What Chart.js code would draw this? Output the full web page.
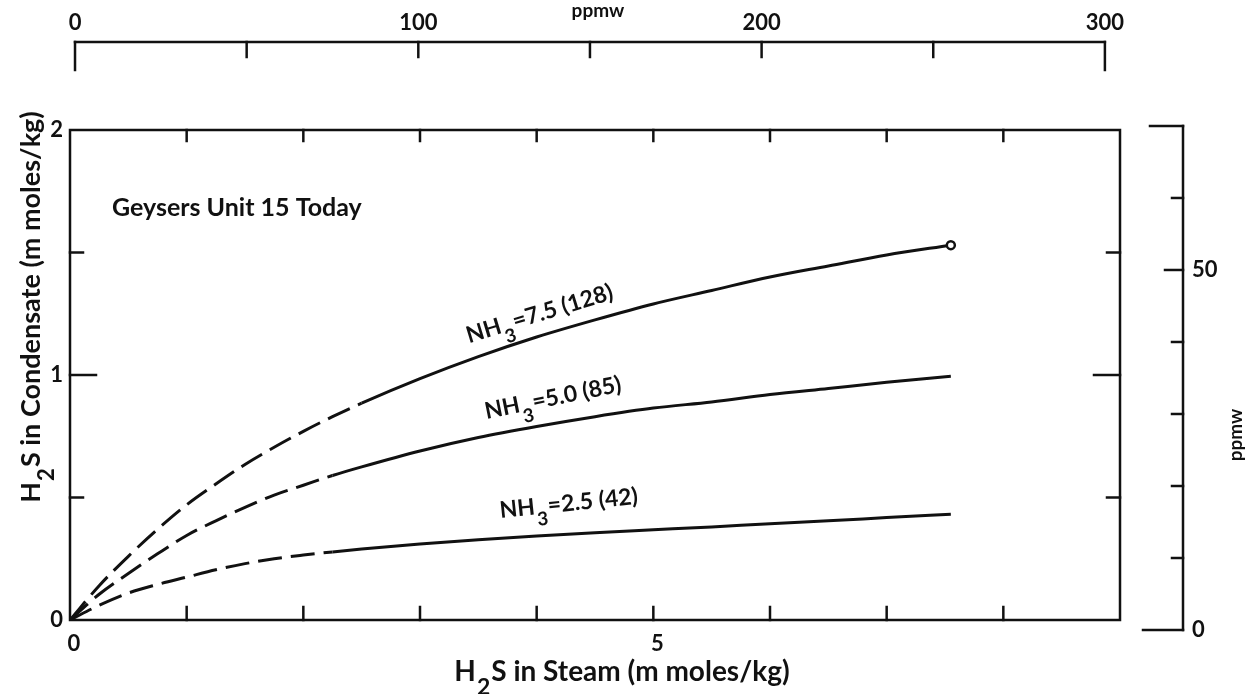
<!DOCTYPE html>
<html>
<head>
<meta charset="utf-8">
<script src="https://cdn.jsdelivr.net/npm/chart.js@4.4.1/dist/chart.umd.min.js"></script>
<style>
  html, body { margin: 0; padding: 0; background: #fff; }
  canvas { display: block; }
</style>
</head>
<body>
<canvas id="myChart" width="1247" height="694"></canvas>
<script>
// H2S in steam (m moles/kg), shared by the three curves
var steamX = [0, 0.25, 0.5, 0.75, 1, 1.25, 1.5, 1.75, 2, 2.25, 2.5, 3, 3.5, 4, 4.5, 5, 5.5, 6, 6.5, 7, 7.55];

// H2S in condensate (m moles/kg) for each NH3 level
var nh3_75 = [0, 0.14, 0.26, 0.37, 0.47, 0.555, 0.635, 0.705, 0.77, 0.83, 0.885, 0.985, 1.075, 1.155, 1.225, 1.29, 1.345, 1.40, 1.445, 1.49, 1.53];
var nh3_50 = [0, 0.105, 0.19, 0.27, 0.345, 0.405, 0.46, 0.51, 0.55, 0.59, 0.625, 0.69, 0.745, 0.79, 0.83, 0.865, 0.89, 0.92, 0.945, 0.97, 0.995];
var nh3_25 = [0, 0.06, 0.11, 0.145, 0.175, 0.205, 0.23, 0.25, 0.265, 0.278, 0.29, 0.31, 0.328, 0.343, 0.356, 0.368, 0.38, 0.393, 0.405, 0.418, 0.432];

// curves are dashed (extrapolated) below these steam values
var solidFrom = [2.5, 2.25, 2.25];
var nh3Labels = ['7.5 (128)', '5.0 (85)', '2.5 (42)'];

var xTicks = [0, 1, 2, 3, 4, 5, 6, 7, 8, 9];
var xTickLabels = [0, 5];
var yTicks = [0, 0.5, 1, 1.5, 2];
var yTickLabels = [0, 1, 2];
var ppmwTopTicks = [0, 50, 100, 150, 200, 250, 300];
var ppmwTopLabels = [0, 100, 200, 300];
var ppmwRightTicks = [0, 10, 20, 30, 40, 50, 60, 70];
var ppmwRightLabels = [0, 50];

var ink = '#111';
var FONT = 'Lato, "DejaVu Sans", sans-serif';

function toPoints(ys) {
  return steamX.map(function (x, i) { return { x: x, y: ys[i] }; });
}

function seg(c, x1, y1, x2, y2) {
  c.beginPath(); c.moveTo(x1, y1); c.lineTo(x2, y2); c.stroke();
}

// draws text with a lowered digit, e.g. H2S / NH3
function subText(c, parts, x, y, size, align) {
  var w = 0;
  parts.forEach(function (p) {
    c.font = '700 ' + (p[1] ? size * 0.82 : size) + 'px ' + FONT;
    w += c.measureText(p[0]).width + (p[1] ? 2 : 0);
  });
  var cx = align === 'center' ? x - w / 2 : x;
  c.textAlign = 'left';
  c.textBaseline = 'alphabetic';
  parts.forEach(function (p) {
    c.font = '700 ' + (p[1] ? size * 0.82 : size) + 'px ' + FONT;
    c.fillText(p[0], cx + (p[1] ? 1 : 0), p[1] ? y + size * 0.5 : y);
    cx += c.measureText(p[0]).width + (p[1] ? 2 : 0);
  });
}

var decor = {
  id: 'decor',
  beforeDatasetsDraw: function (chart) {
    var c = chart.ctx, s = chart.scales, a = chart.chartArea;
    c.save();
    c.strokeStyle = ink;
    c.fillStyle = ink;
    c.lineWidth = 2.5;
    c.lineCap = 'square';
    c.strokeRect(a.left, a.top, a.right - a.left, a.bottom - a.top);

    // inward ticks on the main box
    xTicks.forEach(function (v) {
      if (v === 0 || v === 9) return;
      var px = s.x.getPixelForValue(v);
      seg(c, px, a.bottom, px, a.bottom - 13);
      seg(c, px, a.top, px, a.top + 11);
    });
    yTicks.forEach(function (v) {
      if (v === 0 || v === 2) return;
      var py = s.y.getPixelForValue(v);
      var len = v === 1 ? 26 : 13;
      seg(c, a.left, py, a.left + len, py);
      seg(c, a.right, py, a.right - len, py);
    });

    // tick labels of the main box
    c.font = '700 22px ' + FONT;
    c.textAlign = 'center';
    c.textBaseline = 'top';
    xTickLabels.forEach(function (v) {
      c.fillText(String(v), s.x.getPixelForValue(v) + 4, a.bottom + 13);
    });
    c.textAlign = 'right';
    c.textBaseline = 'middle';
    yTickLabels.forEach(function (v) {
      c.fillText(String(v), a.left - 7, s.y.getPixelForValue(v));
    });

    // separate ppmw axis above the box
    var ty = 42;
    var x0 = s.xTop.getPixelForValue(0), x1 = s.xTop.getPixelForValue(300);
    seg(c, x0, ty, x1, ty);
    ppmwTopTicks.forEach(function (v) {
      var px = s.xTop.getPixelForValue(v);
      var len = (v === 0 || v === 300) ? 28 : 15;
      seg(c, px, ty, px, ty + len);
    });
    c.font = '700 22px ' + FONT;
    c.textAlign = 'center';
    c.textBaseline = 'alphabetic';
    ppmwTopLabels.forEach(function (v) {
      c.fillText(String(v), s.xTop.getPixelForValue(v), ty - 12);
    });
    c.font = '700 19px ' + FONT;
    c.fillText('ppmw', s.xTop.getPixelForValue(150) + 8, 17);

    // separate ppmw axis right of the box
    var rx = 1183;
    var y0 = s.yRight.getPixelForValue(0), y1 = s.yRight.getPixelForValue(70);
    seg(c, rx, y0, rx, y1);
    seg(c, rx - 33, y1, rx, y1);
    seg(c, rx - 40, y0, rx, y0);
    ppmwRightTicks.forEach(function (v) {
      if (v === 0 || v === 70) return;
      var py = s.yRight.getPixelForValue(v);
      seg(c, rx, py, rx - (v === 50 ? 18 : 11), py);
    });
    c.font = '700 22px ' + FONT;
    c.textAlign = 'left';
    c.textBaseline = 'middle';
    ppmwRightLabels.forEach(function (v) {
      c.fillText(String(v), rx + 9, s.yRight.getPixelForValue(v));
    });
    c.save();
    c.translate(1236, 435);
    c.rotate(-Math.PI / 2);
    c.font = '700 19px ' + FONT;
    c.textAlign = 'center';
    c.fillText('ppmw', 0, 0);
    c.restore();
    c.restore();
  },
  afterDraw: function (chart) {
    var c = chart.ctx, s = chart.scales, a = chart.chartArea;
    c.save();
    c.fillStyle = ink;

    // axis titles
    subText(c, [['H', false], ['2', true], ['S in Steam (m moles/kg)', false]], 622, 681, 28, 'center');
    c.save();
    c.translate(40, 307);
    c.rotate(-Math.PI / 2);
    subText(c, [['H', false], ['2', true], ['S in Condensate (m moles/kg)', false]], 0, 0, 27, 'center');
    c.restore();

    c.font = '700 25px ' + FONT;
    c.textAlign = 'left';
    c.textBaseline = 'alphabetic';
    c.fillText('Geysers Unit 15 Today', a.left + 42, a.top + 86);

    // curve labels, anchored in data space
    var spots = [[3.42, 1.13, -17], [3.57, 0.82, -11.5], [3.69, 0.416, -6]];
    spots.forEach(function (p, i) {
      c.save();
      c.translate(s.x.getPixelForValue(p[0]), s.y.getPixelForValue(p[1]));
      c.rotate(p[2] * Math.PI / 180);
      subText(c, [['NH', false], ['3', true], ['=' + nh3Labels[i], false]], 0, 0, 23, 'left');
      c.restore();
    });
    c.restore();
  }
};

function curve(ys, i) {
  return {
    data: toPoints(ys),
    borderColor: ink,
    borderWidth: 3,
    fill: false,
    cubicInterpolationMode: 'monotone',
    pointRadius: function (ctx) {
      return (i === 0 && ctx.dataIndex === steamX.length - 1) ? 4 : 0;
    },
    pointBackgroundColor: '#fff',
    pointBorderColor: ink,
    pointBorderWidth: 2.5,
    segment: {
      borderDash: function (ctx) {
        return ctx.p1.parsed.x <= solidFrom[i] ? [24, 9] : undefined;
      }
    }
  };
}

var ctx = document.getElementById('myChart').getContext('2d');
var chart = new Chart(ctx, {
  type: 'line',
  data: {
    datasets: [curve(nh3_75, 0), curve(nh3_50, 1), curve(nh3_25, 2)]
  },
  options: {
    responsive: false,
    animation: false,
    devicePixelRatio: 1,
    events: [],
    layout: { padding: { left: 70, top: 130, right: 127, bottom: 74 } },
    plugins: { legend: { display: false }, tooltip: { enabled: false } },
    scales: {
      x: { type: 'linear', min: 0, max: 9, display: false },
      y: { type: 'linear', min: 0, max: 2, display: false },
      xTop: { type: 'linear', axis: 'x', position: 'top', min: -1.46, max: 304.4, display: false },
      yRight: { type: 'linear', axis: 'y', position: 'right', min: 1.39, max: 69.44, display: false }
    }
  },
  plugins: [decor]
});
</script>
</body>
</html>
